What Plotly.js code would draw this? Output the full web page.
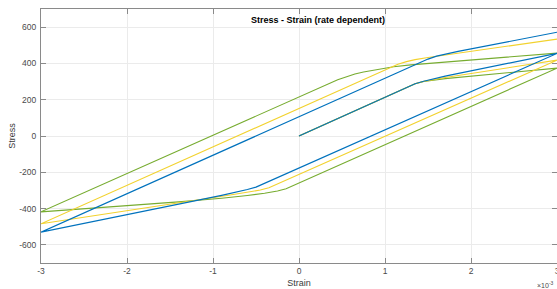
<!DOCTYPE html>
<html>
<head>
<meta charset="utf-8">
<script src="https://cdn.plot.ly/plotly-3.0.1.min.js"></script>
<style>
  html, body { margin: 0; padding: 0; background: #fff; }
  #chart { width: 557px; height: 289px; }
</style>
</head>
<body>
<div id="chart"></div>
<script>
// Strain in units of 1e-3, stress in MPa
const blueStrain   = [0, 1.35, 1.45, 1.55, 1.7, 3, -0.4, -0.5, -0.6, -0.75, -0.9, -3, 1.5, 1.6, 1.7, 1.85, 3];
const blueStress   = [0, 288, 302, 314, 330, 455, -265, -282, -295, -312, -327, -530, 424, 440, 451, 466, 572];

const yellowStrain = [0, 1.35, 1.45, 1.55, 1.7, 3, -0.25, -0.35, -0.45, -0.6, -0.8, -3, 1.15, 1.25, 1.35, 1.5, 1.7, 3];
const yellowStress = [0, 288, 301, 311, 322, 418, -268, -285, -298, -311, -325, -484, 396, 410, 421, 433, 446, 534];

const greenStrain  = [0, 1.35, 1.45, 1.55, 1.7, 3, -0.05, -0.15, -0.25, -0.4, -0.6, -0.9, -1.4, -3, 0.45, 0.55, 0.65, 0.75, 0.9, 1.1, 1.3, 1.5, 3];
const greenStress  = [0, 288, 300, 308, 316, 374, -272, -291, -303, -316, -328, -343, -363, -418, 310, 328, 342, 353, 367, 382, 392, 400, 457];

const xTicks = [-3, -2, -1, 0, 1, 2, 3];
const xTickText = ['-3', '-2', '-1', '0', '1', '2', '3'];
const yTicks = [-600, -400, -200, 0, 200, 400, 600];
const yTickText = ['-600', '-400', '-200', '0', '200', '400', '600'];

const font = 'Liberation Sans, Arial, Helvetica, sans-serif';
const axisColor = '#8a8a8a';
const gridColor = '#ebebeb';

const traces = [
  {x: greenStrain, y: greenStress, type: 'scatter', mode: 'lines', line: {color: '#77AC30', width: 1.1}, name: 'green'},
  {x: yellowStrain, y: yellowStress, type: 'scatter', mode: 'lines', line: {color: '#F2D22E', width: 1.1}, name: 'yellow'},
  {x: blueStrain, y: blueStress, type: 'scatter', mode: 'lines', line: {color: '#0072BD', width: 1.2}, name: 'blue'}
];

const axisCommon = {
  showline: true, linecolor: axisColor, linewidth: 1, mirror: 'allticks',
  ticks: 'inside', ticklen: 5, tickcolor: axisColor, tickwidth: 1,
  showgrid: true, gridcolor: gridColor, gridwidth: 1,
  zeroline: false,
  tickfont: {family: font, size: 8.5, color: '#4a4a4a'},
  ticklabeloverflow: 'allow',
  automargin: false
};

const layout = {
  width: 557, height: 289,
  margin: {l: 41, r: 0, t: 9, b: 26},
  paper_bgcolor: '#ffffff', plot_bgcolor: '#ffffff',
  showlegend: false,
  title: {text: '<b>Stress - Strain (rate dependent)</b>', font: {family: font, size: 9, color: '#000'},
          x: 0.537, xanchor: 'center', y: 0.93, yanchor: 'middle', xref: 'paper', yref: 'container'},
  xaxis: Object.assign({}, axisCommon, {
    range: [-3, 3], tickvals: xTicks, ticktext: xTickText,
    title: {text: 'Strain', font: {family: font, size: 9, color: '#3a3a3a'}, standoff: 4}
  }),
  yaxis: Object.assign({}, axisCommon, {
    range: [-700, 700], tickvals: yTicks, ticktext: yTickText, ticklabelstandoff: 2,
    title: {text: 'Stress', font: {family: font, size: 9, color: '#3a3a3a'}, standoff: 2}
  }),
  annotations: [
    {text: '×10<sup>-3</sup>', xref: 'paper', yref: 'paper', x: 1.0, y: 0, xanchor: 'right', yanchor: 'top',
     yshift: -16, xshift: -1, showarrow: false, font: {family: font, size: 7, color: '#4a4a4a'}}
  ]
};

Plotly.newPlot('chart', traces, layout, {displayModeBar: false, staticPlot: true});
</script>
</body>
</html>
